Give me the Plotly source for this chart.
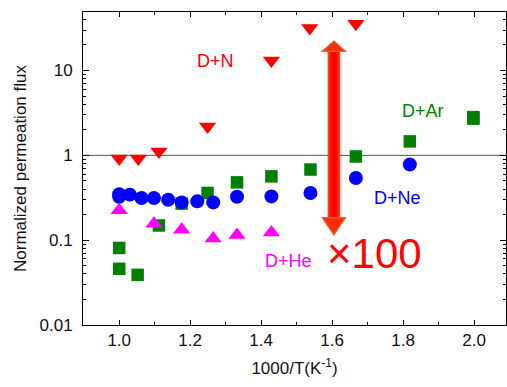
import plotly.graph_objects as go

# ---- data ----
dn_x = [1.0, 1.054, 1.112, 1.249, 1.429, 1.537, 1.667]
dn_y = [0.92, 0.92, 1.11, 2.19, 13.1, 31.8, 35.5]

ne_x = [1.0, 1.0, 1.030, 1.063, 1.098, 1.138, 1.176, 1.220, 1.265, 1.332, 1.429, 1.539, 1.667, 1.819]
ne_y = [0.348, 0.325, 0.344, 0.314, 0.314, 0.300, 0.279, 0.287, 0.279, 0.325, 0.328, 0.36, 0.54, 0.78]

ar_x = [1.0, 1.0, 1.052, 1.112, 1.176, 1.249, 1.332, 1.429, 1.539, 1.667, 1.819, 1.998, 1.998]
ar_y = [0.081, 0.046, 0.039, 0.149, 0.27, 0.36, 0.48, 0.565, 0.68, 0.97, 1.46, 2.71, 2.82]

he_x = [1.0, 1.098, 1.176, 1.265, 1.332, 1.429]
he_y = [0.226, 0.156, 0.133, 0.105, 0.115, 0.123]

x_ticks = [1.0, 1.2, 1.4, 1.6, 1.8, 2.0]
x_ticktext = ["1.0", "1.2", "1.4", "1.6", "1.8", "2.0"]
y_ticks = [0.01, 0.1, 1, 10]
y_ticktext = ["0.01", "0.1", "1", "10"]
y_minor = [m * 10 ** e for e in (-2, -1, 0, 1) for m in range(2, 10)]
x_minor = [1.1, 1.3, 1.5, 1.7, 1.9]

FONT = "Liberation Sans, Arial, sans-serif"

fig = go.Figure()
fig.add_trace(go.Scatter(x=ar_x, y=ar_y, mode="markers", cliponaxis=False,
                         marker=dict(symbol="square", size=12.5, color="#007f00"), showlegend=False))
fig.add_trace(go.Scatter(x=ne_x, y=ne_y, mode="markers", cliponaxis=False,
                         marker=dict(symbol="circle", size=14, color="#0000ff"), showlegend=False))
fig.add_trace(go.Scatter(x=he_x, y=he_y, mode="markers", cliponaxis=False,
                         marker=dict(symbol="triangle-up", size=15, color="#ff00ff"), showlegend=False))
fig.add_trace(go.Scatter(x=dn_x, y=dn_y, mode="markers", cliponaxis=False,
                         marker=dict(symbol="triangle-down", size=15, color="#ff0000"), showlegend=False))

# reference line at 1
fig.add_shape(type="line", xref="paper", yref="y", x0=0, x1=1, y0=1, y1=1,
              line=dict(color="#555555", width=1), layer="below")

# big double arrow
ax_c = 1.605
hw_s = 0.0155
hw_h = 0.032
y_top, y_hb_top = 22.2, 16.9
y_bot, y_hb_bot = 0.116, 0.184
sh = 0.009
# shadow
fig.add_shape(type="rect", x0=ax_c - hw_s + sh, x1=ax_c + hw_s + sh, y0=y_hb_bot * 0.93, y1=y_hb_top * 0.93,
              line=dict(width=0), fillcolor="rgba(0,0,0,0.10)", layer="above")
fig.add_shape(type="rect", x0=ax_c - hw_s, x1=ax_c + hw_s, y0=y_hb_bot, y1=y_hb_top,
              line=dict(color="#e0502a", width=1.5), fillcolor="#ff1a00", layer="above")
fig.add_shape(type="rect", x0=ax_c - hw_s * 0.45, x1=ax_c + hw_s * 0.45, y0=y_hb_bot, y1=y_hb_top,
              line=dict(width=0), fillcolor="#ff0000", layer="above")
fig.add_shape(type="path",
              path=f"M {ax_c - hw_h},{y_hb_top} L {ax_c + hw_h},{y_hb_top} L {ax_c},{y_top} Z",
              line=dict(color="#e0602a", width=1.5), fillcolor="#ff2a00", layer="above")
fig.add_shape(type="path",
              path=f"M {ax_c - hw_h},{y_hb_bot} L {ax_c + hw_h},{y_hb_bot} L {ax_c},{y_bot} Z",
              line=dict(color="#e0602a", width=1.5), fillcolor="#ff2a00", layer="above")

# labels
def lab(text, x, ylog, color, size):
    fig.add_annotation(text=text, x=x, y=ylog, xref="x", yref="y", showarrow=False,
                       font=dict(family=FONT, size=size, color=color))

lab("D+N", 1.27, 1.11, "#ff0000", 18)
lab("D+Ar", 1.857, 0.52, "#007f00", 18)
lab("D+Ne", 1.783, -0.505, "#0000ff", 18)
lab("D+He", 1.476, -1.24, "#ff00ff", 18)
lab("×100", 1.72, -1.16, "#ff0000", 42)

fig.update_layout(
    width=507, height=387,
    margin=dict(l=83, r=1, t=12, b=62),
    plot_bgcolor="white", paper_bgcolor="white",
    font=dict(family=FONT, size=17, color="#111111"),
    xaxis=dict(range=[0.898, 2.09], tickvals=x_ticks, ticktext=x_ticktext, automargin=False,
               ticks="inside", ticklen=5, tickcolor="black", showline=True, linecolor="black",
               linewidth=1, mirror="ticks", showgrid=False, zeroline=False,
               minor=dict(tickvals=x_minor, ticks="inside", ticklen=3, tickcolor="black"),
               title=dict(text="1000/T(K<sup>-1</sup>)", font=dict(size=17), standoff=12)),
    yaxis=dict(type="log", range=[-2, 1.69], tickvals=y_ticks, ticktext=y_ticktext, automargin=False,
               ticks="inside", ticklen=6, tickcolor="black", showline=True, linecolor="black",
               linewidth=1, mirror="ticks", showgrid=False, zeroline=False,
               minor=dict(tickvals=y_minor, ticks="inside", ticklen=3, tickcolor="black"),
               ticklabelstandoff=6,
               title=dict(text="Normalized permeation flux", font=dict(size=17), standoff=8)),
)

fig.write_html("out.html", config={"displayModeBar": False},
               post_script="document.body.style.margin='0';document.body.style.overflow='hidden';")
